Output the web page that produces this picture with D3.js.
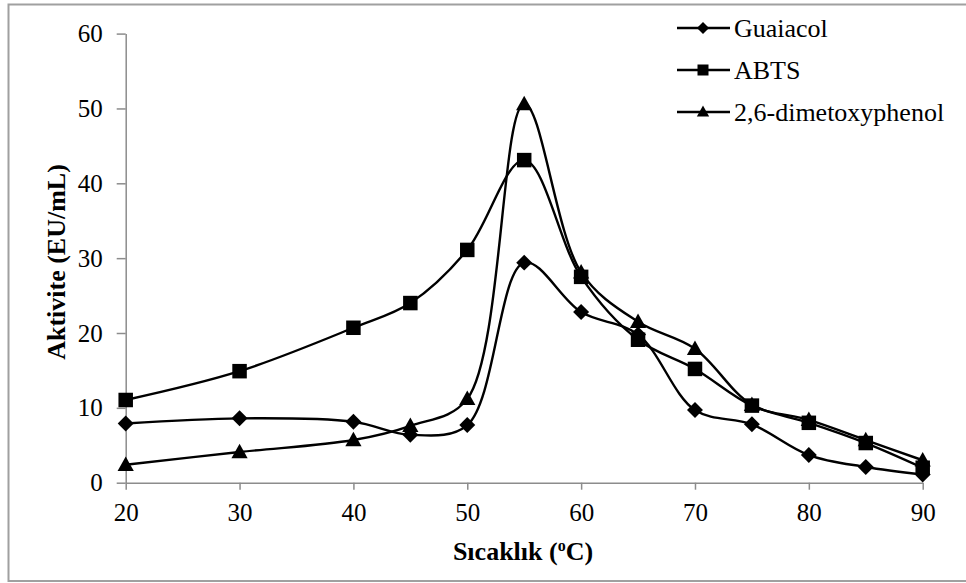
<!DOCTYPE html>
<html>
<head>
<meta charset="utf-8">
<script src="https://cdn.jsdelivr.net/npm/d3@7"></script>
</head>
<body style="margin:0">
<svg id="chart" width="966" height="583" font-family="Liberation Serif"></svg>
<script>
// Temperature (°C) on the x axis
const temperatures = [20, 30, 40, 45, 50, 55, 60, 65, 70, 75, 80, 85, 90];

// Enzyme activity (EU/mL) for each substrate
const guaiacol = [7.9, 8.6, 8.15, 6.4, 7.7, 29.4, 22.8, 19.8, 9.7, 7.8, 3.7, 2.1, 1.1];
const abts     = [11.05, 14.9, 20.7, 24.0, 31.1, 43.1, 27.5, 19.1, 15.2, 10.3, 8.0, 5.3, 2.0];
const dmp      = [2.4, 4.1, 5.7, 7.6, 11.2, 50.6, 28.1, 21.5, 17.9, 10.4, 8.4, 5.7, 3.0];

const seriesNames = ["Guaiacol", "ABTS", "2,6-dimetoxyphenol"];
const seriesSymbols = ["diamond", "square", "triangle"];

const xTicks = [20, 30, 40, 50, 60, 70, 80, 90];
const yTicks = [0, 10, 20, 30, 40, 50, 60];

const FONT = "Liberation Serif";

const svg = d3.select("#chart");

// outer frame
svg.append("path")
  .attr("d", "M970,4.5 H8.5 V581 H970")
  .attr("fill", "none")
  .attr("stroke", "#a0a0a0")
  .attr("stroke-width", 2);

const x = d3.scaleLinear().domain([20, 90]).range([125.7, 922.7]);
const y = d3.scaleLinear().domain([0, 60]).range([482.7, 33.6]);

const axisColor = "#8c8c8c";

// y axis
const gy = svg.append("g")
  .attr("transform", `translate(${x(20)},0)`)
  .call(d3.axisLeft(y).tickValues(yTicks).tickSize(9).tickSizeOuter(0).tickPadding(14))
  .attr("font-family", null)
  .attr("font-size", null);
gy.select(".domain").attr("stroke", axisColor).attr("stroke-width", 1.5);
gy.selectAll(".tick line").attr("stroke", axisColor).attr("stroke-width", 1.5);
gy.selectAll(".tick text")
  .style("font-family", FONT)
  .style("font-size", "25px")
  .attr("fill", "#000");

// x axis
const gx = svg.append("g")
  .attr("transform", `translate(0,${y(0)})`)
  .call(d3.axisBottom(x).tickValues(xTicks).tickSize(7).tickSizeOuter(0).tickPadding(14))
  .attr("font-family", null)
  .attr("font-size", null);
gx.select(".domain").attr("stroke", axisColor).attr("stroke-width", 1.5);
gx.selectAll(".tick line").attr("stroke", axisColor).attr("stroke-width", 1.5);
gx.selectAll(".tick text")
  .style("font-family", FONT)
  .style("font-size", "25px")
  .attr("fill", "#000");

// axis titles
svg.append("text")
  .attr("transform", `translate(65,262) rotate(-90)`)
  .attr("text-anchor", "middle")
  .style("font-family", FONT)
  .style("font-size", "26px")
  .style("font-weight", "bold")
  .text("Aktivite (EU/mL)");

const xt = svg.append("text")
  .attr("x", 523)
  .attr("y", 560)
  .attr("text-anchor", "middle")
  .style("font-family", FONT)
  .style("font-size", "26px")
  .style("font-weight", "bold");
xt.append("tspan").text("Sıcaklık (");
xt.append("tspan").style("font-size", "16px").attr("dy", -9).text("o");
xt.append("tspan").attr("dy", 9).text("C)");

// marker shapes
function marker(sel, type, s) {
  if (type === "square") {
    sel.append("rect").attr("x", -s / 2).attr("y", -s / 2).attr("width", s).attr("height", s).attr("fill", "#000");
  } else if (type === "diamond") {
    const h = s * 0.55;
    sel.append("path").attr("d", `M0,${-h}L${h},0L0,${h}L${-h},0Z`).attr("fill", "#000");
  } else {
    const w = s * 0.56, t = s * 0.5;
    sel.append("path").attr("d", `M0,${-t - 1}L${w},${t - 1}L${-w},${t - 1}Z`).attr("fill", "#000");
  }
}

const allSeries = [guaiacol, abts, dmp];
const line = d3.line()
  .x((d, i) => x(temperatures[i]))
  .y(d => y(d))
  .curve(d3.curveCatmullRom.alpha(0.5));

allSeries.forEach((vals, k) => {
  const g = svg.append("g");
  g.append("path")
    .attr("d", line(vals))
    .attr("fill", "none")
    .attr("stroke", "#000")
    .attr("stroke-width", 2.4);
  vals.forEach((v, i) => {
    const m = g.append("g").attr("transform", `translate(${x(temperatures[i])},${y(v)})`);
    marker(m, seriesSymbols[k], 14.5);
  });
});

// legend
const legendY = [28, 70, 112];
seriesNames.forEach((name, k) => {
  const g = svg.append("g").attr("transform", `translate(0,${legendY[k]})`);
  g.append("line").attr("x1", 677).attr("x2", 730).attr("y1", 0).attr("y2", 0)
    .attr("stroke", "#000").attr("stroke-width", 2.4);
  const m = g.append("g").attr("transform", "translate(703,0)");
  marker(m, seriesSymbols[k], 11);
  g.append("text")
    .attr("x", 734)
    .attr("y", 0)
    .attr("dy", "0.33em")
    .style("font-family", FONT)
    .style("font-size", "26px")
    .text(name);
});
</script>
</body>
</html>
